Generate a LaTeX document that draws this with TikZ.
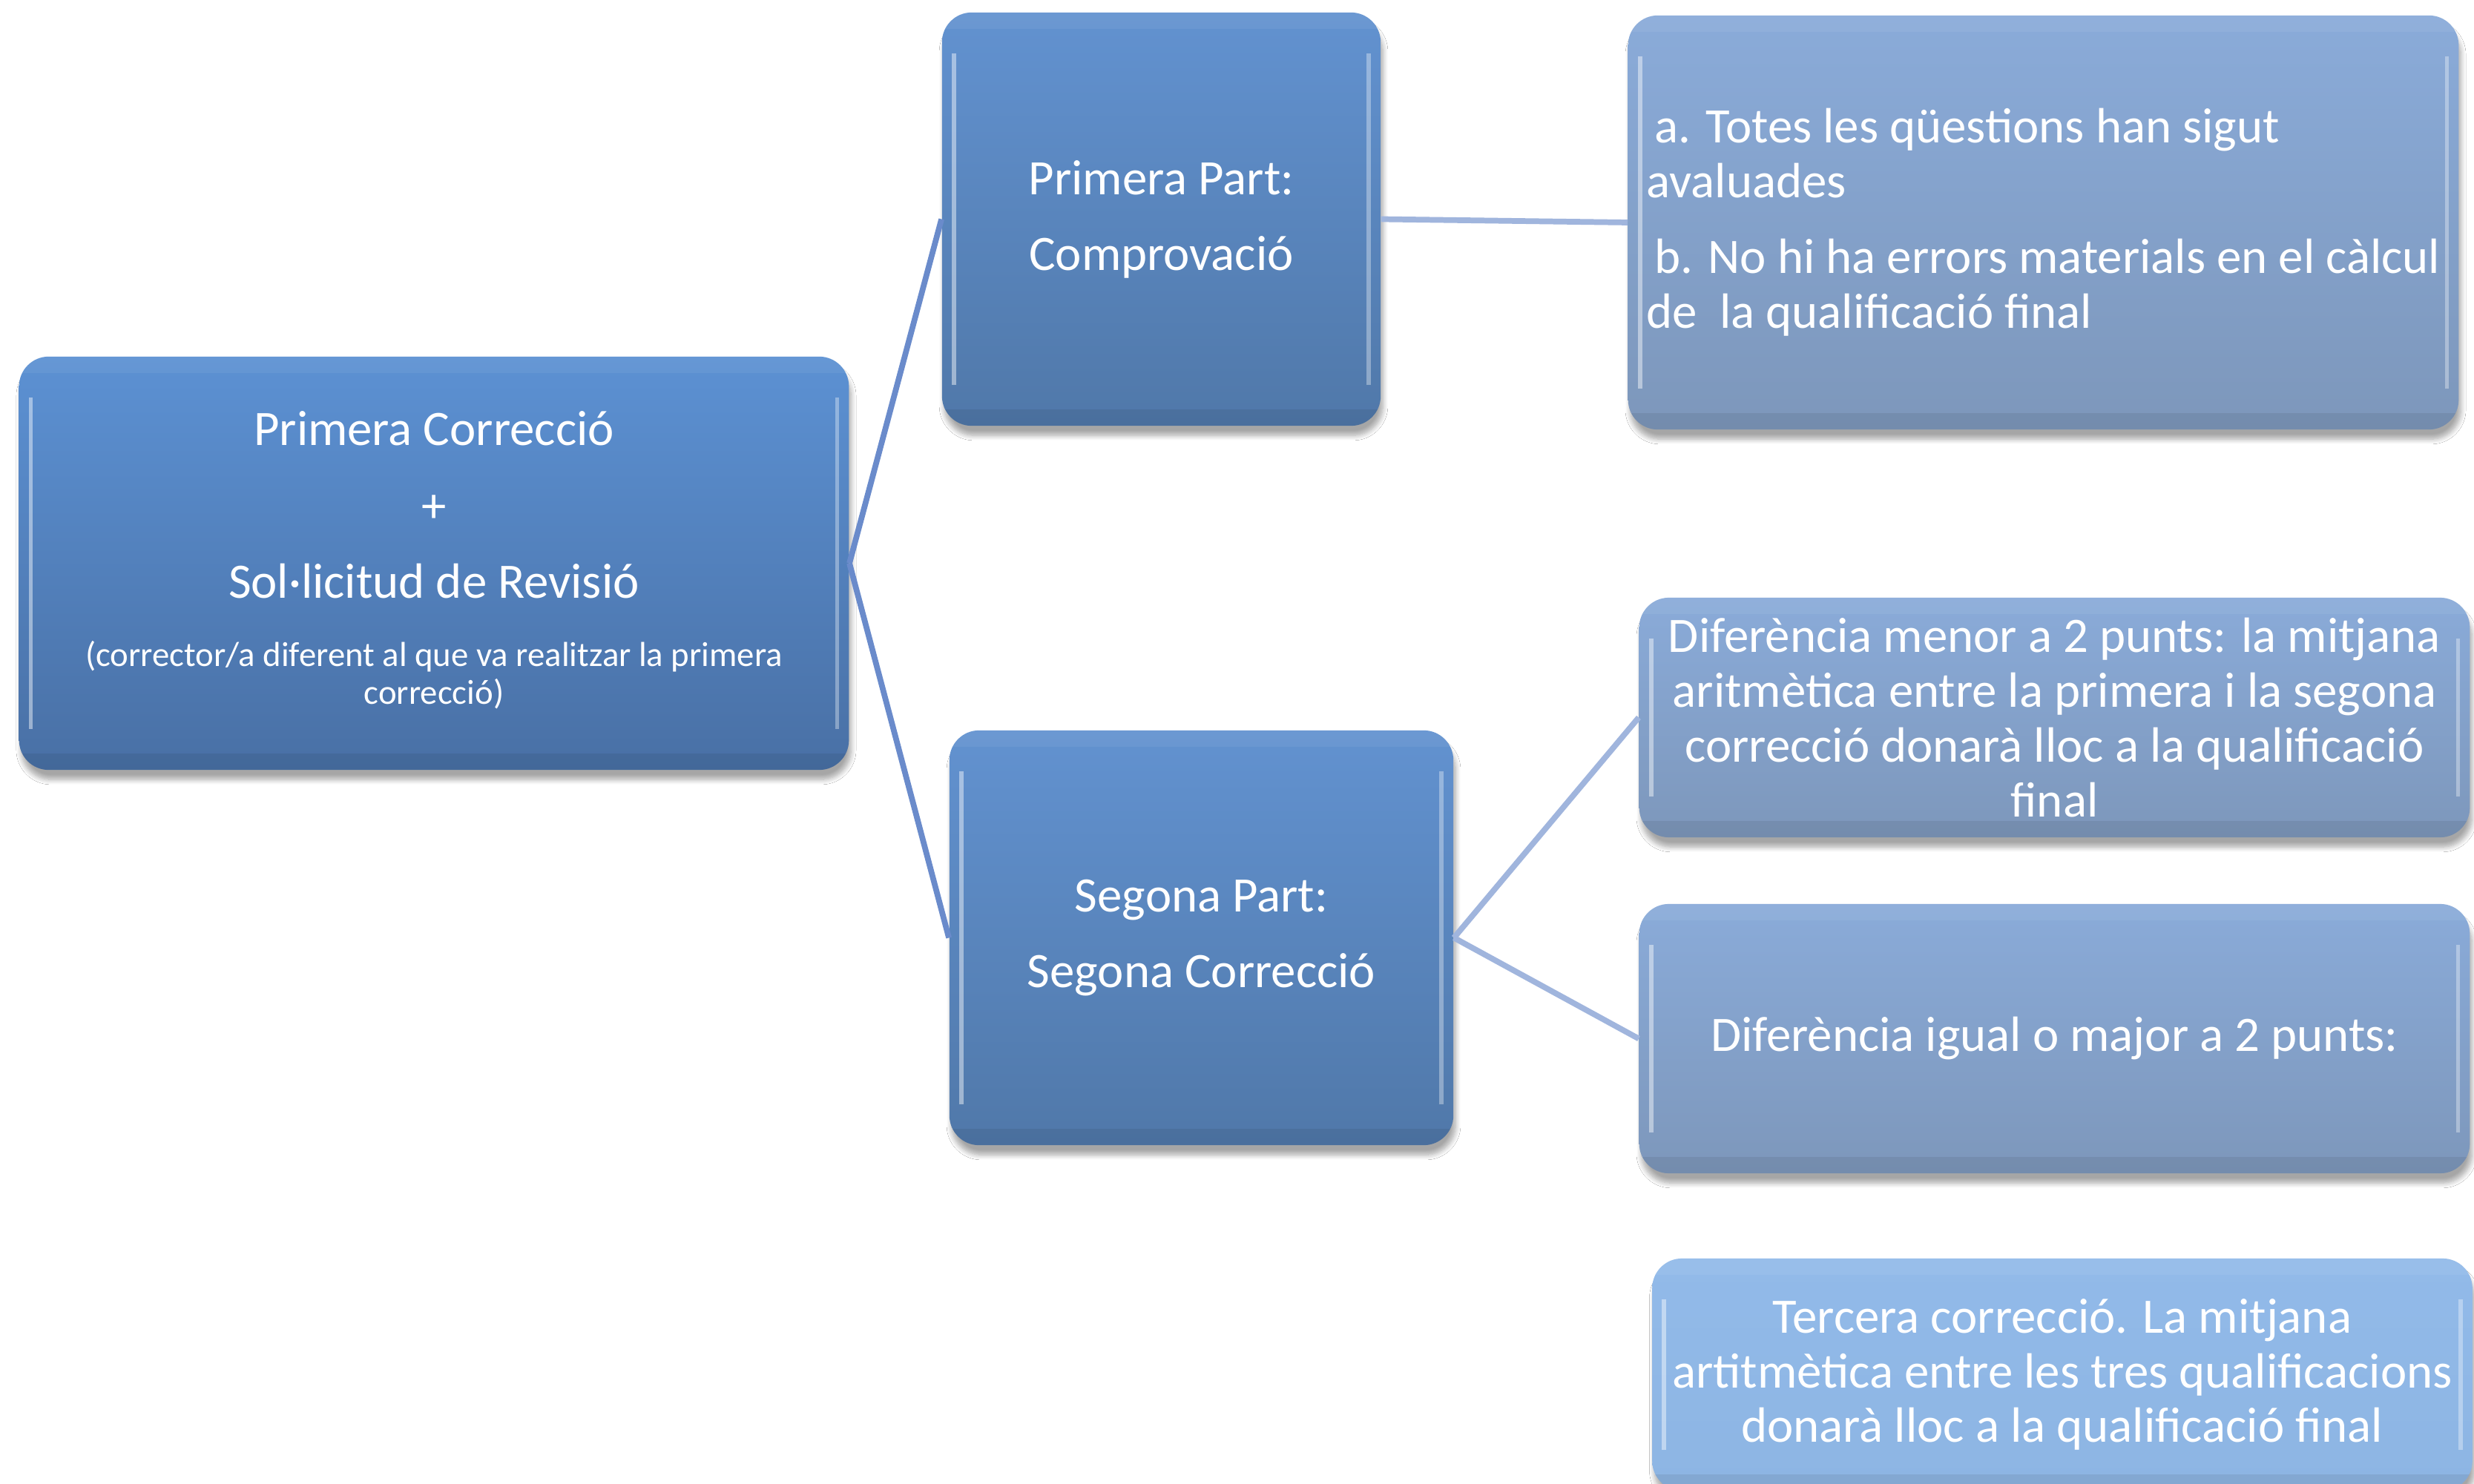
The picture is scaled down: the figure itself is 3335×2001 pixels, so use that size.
\documentclass[tikz,border=0pt]{standalone}
\usepackage{fontspec}
\setmainfont{Carlito}
\usetikzlibrary{shadows.blur}
\definecolor{darkTop}{HTML}{5C91D3}
\definecolor{darkBot}{HTML}{4970A5}
\definecolor{midTop}{HTML}{6292D0}
\definecolor{midBot}{HTML}{5078A9}
\definecolor{lightTop}{HTML}{8AABD9}
\definecolor{lightBot}{HTML}{7D97BB}
\definecolor{paleTop}{HTML}{92BAE9}
\definecolor{paleBot}{HTML}{8DB5E3}
\definecolor{linkDark}{HTML}{6A8BCB}
\definecolor{linkLight}{HTML}{A0B5DD}
\tikzset{
  glossbox/.style={rounded corners=0.4cm, draw=none, text=white, inner sep=0pt,
    font=\fontsize{19}{21}\selectfont,
    blur shadow={shadow xshift=0.03cm, shadow yshift=-0.13cm, shadow blur steps=8,
      shadow blur extra rounding=0.1cm, shadow opacity=35},
    path picture={
      \begin{scope}[sharp corners]
      \draw[white,opacity=0.45,line width=1.6pt] ([xshift=0.16cm,yshift=-0.55cm]path picture bounding box.north west)
        -- ([xshift=0.16cm,yshift=0.55cm]path picture bounding box.south west);
      \draw[white,opacity=0.35,line width=1.6pt] ([xshift=-0.16cm,yshift=-0.55cm]path picture bounding box.north east)
        -- ([xshift=-0.16cm,yshift=0.55cm]path picture bounding box.south east);
      \fill[black,opacity=0.07] ([yshift=0.22cm]path picture bounding box.south west)
        rectangle (path picture bounding box.south east);
      \fill[white,opacity=0.06] (path picture bounding box.north west)
        rectangle ([yshift=-0.22cm]path picture bounding box.north east);
      \end{scope}
    }},
  rootbox/.style={glossbox, top color=darkTop, bottom color=darkBot},
  partbox/.style={glossbox, top color=midTop, bottom color=midBot},
  infobox/.style={glossbox, top color=lightTop, bottom color=lightBot},
  palebox/.style={glossbox, top color=paleTop, bottom color=paleBot},
  darklink/.style={draw=linkDark, line width=2.2pt},
  lightlink/.style={draw=linkLight, line width=2.2pt}
}
\begin{document}
\begin{tikzpicture}[x=0.01cm,y=-0.01cm]
\fill[white] (0,0) rectangle (3335,2001);
\useasboundingbox (0,0) rectangle (3335,2001);

\node[rootbox, align=center, minimum width=11.18cm, minimum height=5.57cm] (A) at (585,759.5)
  {Primera Correcció\\[8.6pt]+\\[8pt]Sol·licitud de Revisió\\[5.2pt]
   {\fontsize{13.3}{14.5}\selectfont\begin{tabular}[t]{@{}c@{}}(corrector/a diferent al que va realitzar la primera\\correcció)\end{tabular}}};

\node[partbox, align=center, minimum width=5.91cm, minimum height=5.57cm] (B) at (1565.5,295.5)
  {Primera Part:\\[8pt]Comprovació};

\node[partbox, align=center, minimum width=6.79cm, minimum height=5.59cm] (D) at (1619.5,1264.5)
  {Segona Part:\\[8pt]Segona Correcció};

\node[infobox, align=left, minimum width=11.19cm, minimum height=5.58cm] (C) at (2754.5,300)
  {\hspace{0.11cm}a. Totes les qüestions han sigut\\avaluades\\[8pt]\hspace{0.11cm}b. No hi ha errors materials en el càlcul\\de\ \ la qualificació final};

\node[infobox, align=center, minimum width=11.19cm, minimum height=3.23cm] (E) at (2769.5,967.5)
  {Diferència menor a 2 punts: la mitjana\\aritmètica entre la primera i la segona\\correcció donarà lloc a la qualificació\\final};

\node[infobox, align=center, minimum width=11.19cm, minimum height=3.63cm] (F) at (2769.5,1400.5)
  {Diferència igual o major a 2 punts:};

\node[palebox, align=center, minimum width=11.05cm, minimum height=3.13cm] (G) at (2780,1853.5)
  {Tercera correcció. La mitjana\\artitmètica entre les tres qualificacions\\donarà lloc a la qualificació final};

\draw[darklink] (A.east) -- (B.west);
\draw[darklink] (A.east) -- (D.west);
\draw[lightlink] (B.east) -- (C.west);
\draw[lightlink] (D.east) -- (E.west);
\draw[lightlink] (D.east) -- (F.west);
\end{tikzpicture}
\end{document}
